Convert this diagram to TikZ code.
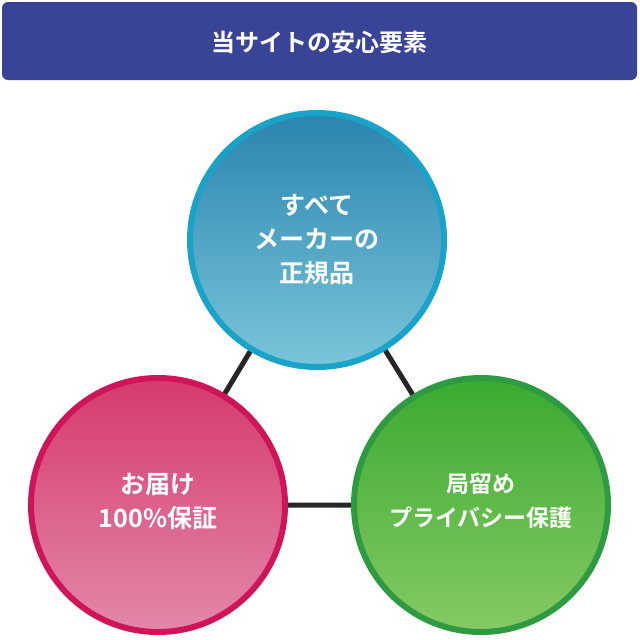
\documentclass[tikz,border=0pt]{standalone}
\usepackage{fontspec}
\newfontfamily\jpfont{Noto Sans CJK JP}[BoldFont={* Bold}]
\definecolor{titlebg}{HTML}{3A4496}
\definecolor{topring}{HTML}{1AA3C8}
\definecolor{toptop}{HTML}{2A84AE}
\definecolor{topbot}{HTML}{7AC6DA}
\definecolor{leftring}{HTML}{D0145A}
\definecolor{lefttop}{HTML}{D63A6C}
\definecolor{leftbot}{HTML}{E288AA}
\definecolor{rightring}{HTML}{2E9A42}
\definecolor{righttop}{HTML}{3AAA30}
\definecolor{rightbot}{HTML}{86CA64}
\tikzset{
  badge/.style = {circle, minimum size = 254, line width = 6, inner sep = 0},
  label/.style = {text = white, align = center, font = \jpfont\bfseries\fontsize{25}{34}\selectfont},
  link/.style = {line width = 5, black!85}
}
\begin{document}
\begin{tikzpicture}[x = 1pt, y = -1pt]
    \useasboundingbox (0,0) rectangle (640,640);
    \fill[titlebg, rounded corners = 6] (2,2) rectangle (637,80);
    \node[text = white, font = \jpfont\bfseries\fontsize{24}{28}\selectfont] (title) at (319.5,42) {当サイトの安心要素};
    % links behind the circles
    \coordinate (ctop) at (317,240);
    \coordinate (cleft) at (158,505);
    \coordinate (cright) at (481,505);
    \draw[link] (ctop) -- (cleft) -- (cright) -- cycle;
    % the three circles
    \node[badge, draw = topring, top color = toptop, bottom color = topbot] (brand) at (ctop) {};
    \node[badge, draw = leftring, top color = lefttop, bottom color = leftbot] (deliver) at (cleft) {};
    \node[badge, draw = rightring, top color = righttop, bottom color = rightbot] (privacy) at (cright) {};
    \node[label] at (brand) {すべて\\メーカーの\\正規品};
    \node[label] at (158,501) {お届け\\100\%保証};
    \node[label, font = \jpfont\bfseries\fontsize{23}{34}\selectfont] at (481,501) {局留め\\プライバシー保護};
\end{tikzpicture}
\end{document}
